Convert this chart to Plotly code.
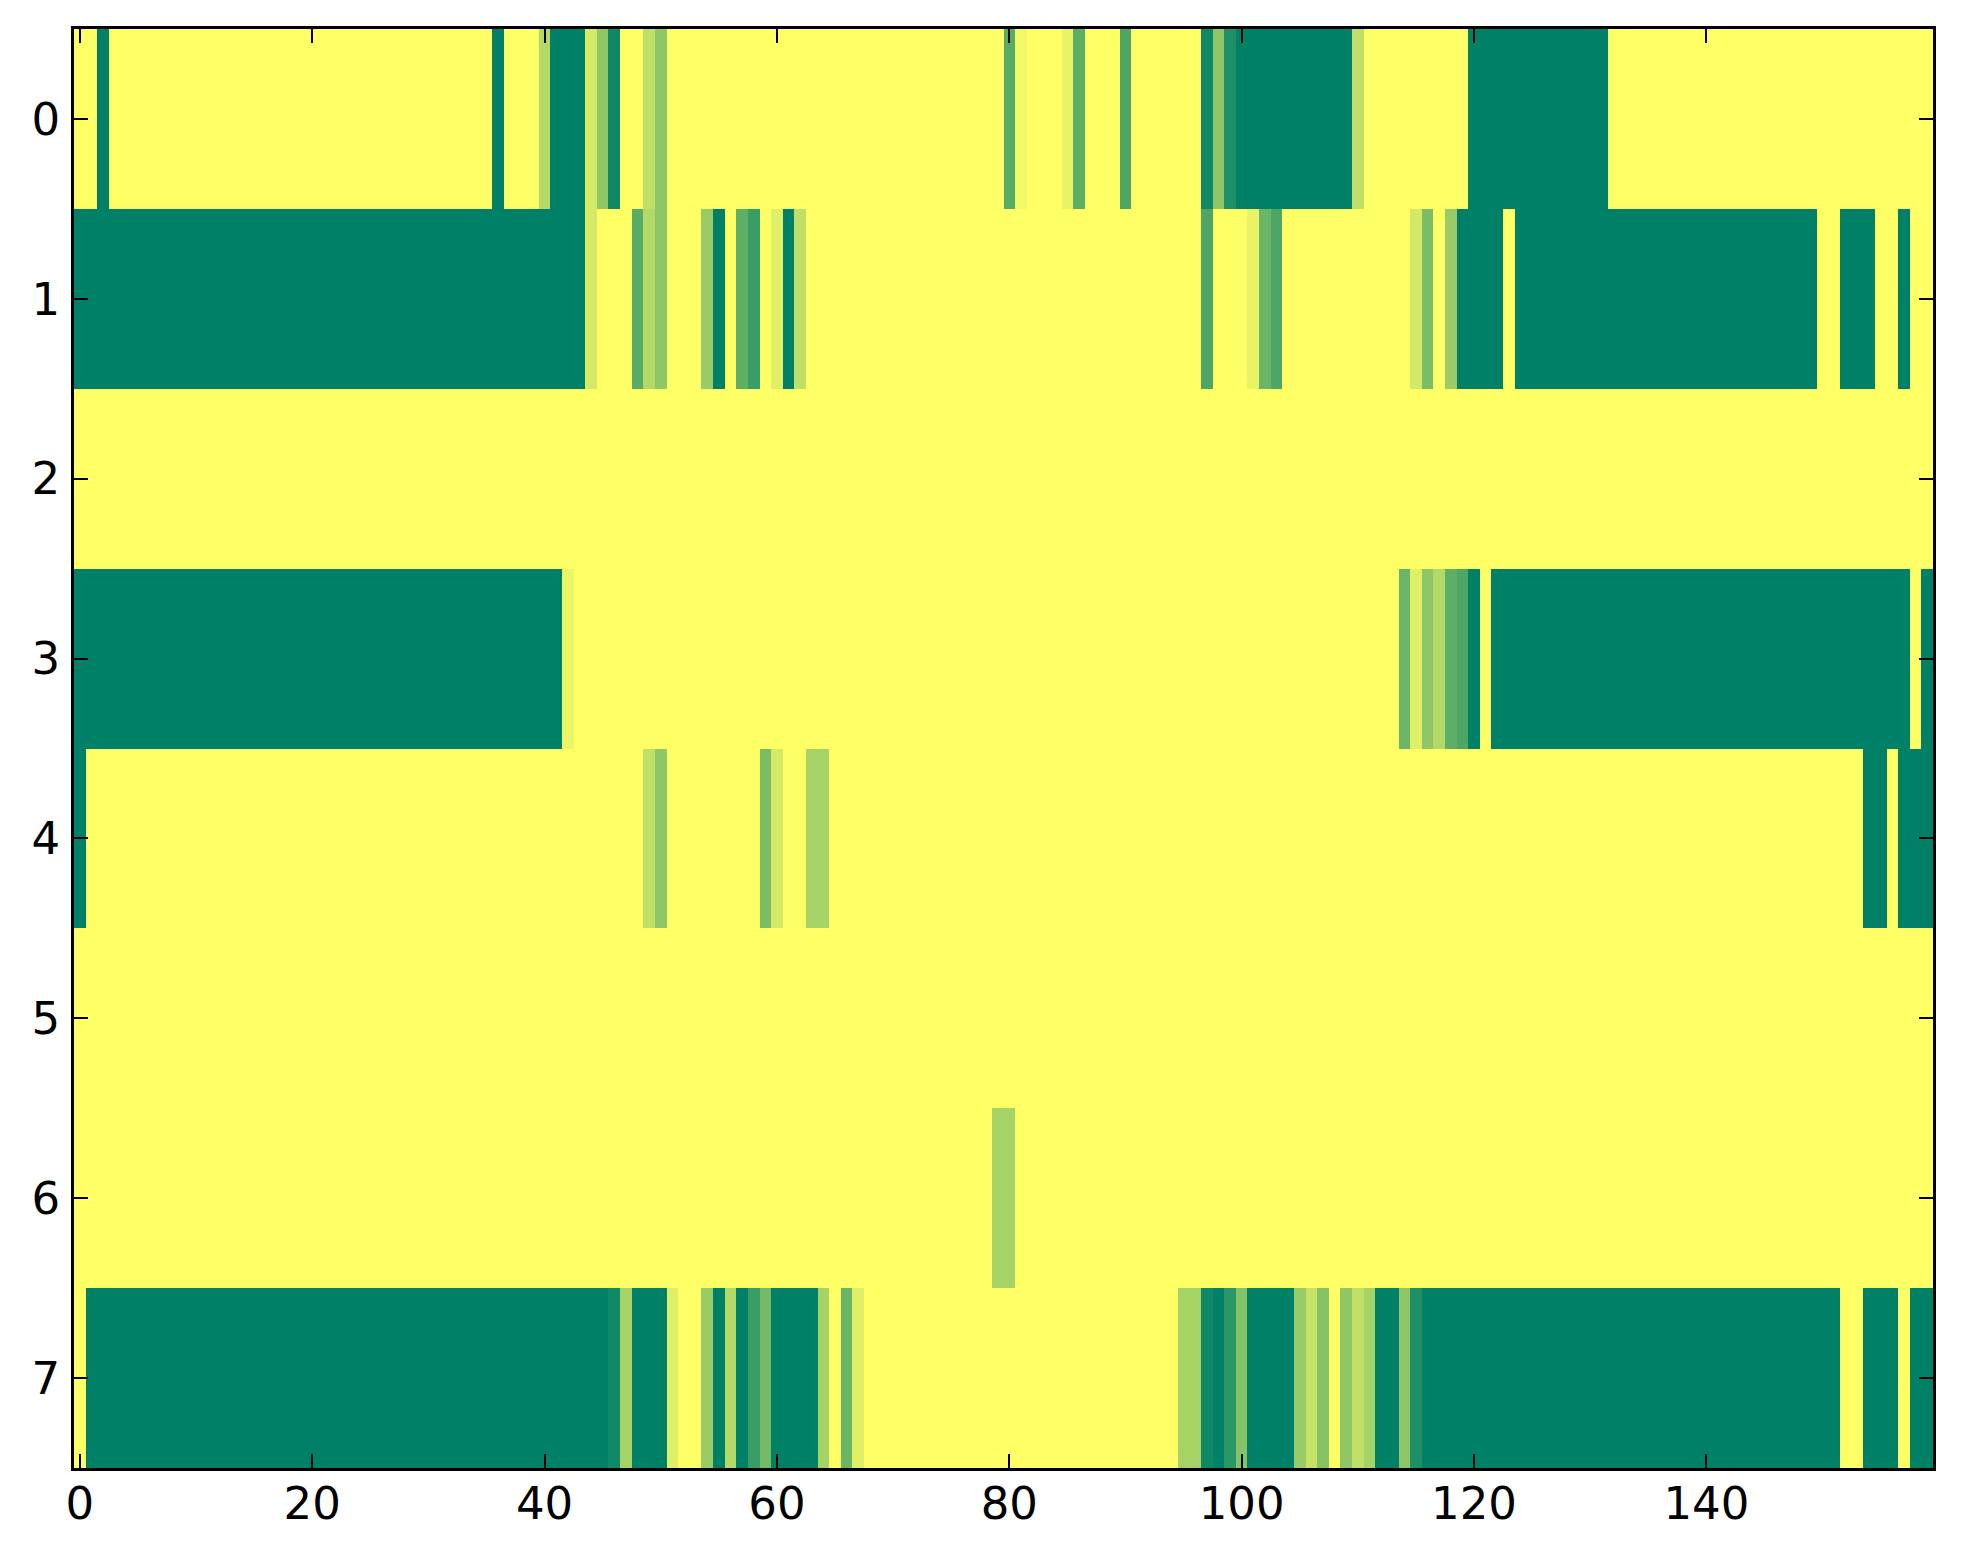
import plotly.graph_objects as go

# each row as (value, run length) pairs, 160 cells per row
row0 = [(1, 2), (0, 1), (1, 33), (0, 1), (1, 3), (0.7, 1), (0, 3), (0.83, 1), (0.56, 1),
        (0.06, 1), (1, 2), (0.75, 1), (0.56, 1), (1, 29), (0.35, 1), (0.95, 1), (1, 3),
        (0.91, 1), (0.37, 1), (1, 3), (0.3, 1), (1, 6), (0.06, 1), (0.56, 1), (0.12, 1),
        (0, 10), (0.75, 1), (1, 9), (0, 12), (1, 28)]
row1 = [(0, 44), (0.83, 1), (1, 3), (0.35, 1), (0.7, 1), (0.56, 1), (1, 3), (0.6, 1),
        (0, 1), (1, 1), (0.37, 1), (0.23, 1), (1, 1), (0.88, 1), (0, 1), (0.75, 1),
        (1, 34), (0.3, 1), (1, 3), (0.91, 1), (0.42, 1), (0.3, 1), (1, 11), (0.83, 1),
        (0.48, 1), (1, 1), (0.6, 1), (0, 4), (1, 1), (0, 26), (1, 2), (0, 3), (1, 2),
        (0, 1), (1, 2)]
row2 = [(1, 160)]
row3 = [(0, 42), (0.92, 1), (1, 71), (0.42, 1), (0.88, 1), (0.56, 1), (0.7, 1),
        (0.37, 1), (0.3, 1), (0, 1), (1, 1), (0, 36), (1, 1), (0, 1)]
row4 = [(0, 1), (1, 48), (0.75, 1), (0.56, 1), (1, 8), (0.48, 1), (0.83, 1), (1, 2),
        (0.65, 2), (1, 89), (0, 2), (1, 1), (0, 3)]
row5 = [(1, 160)]
row6 = [(1, 79), (0.65, 2), (1, 79)]
row7 = [(1, 1), (0, 45), (0.07, 1), (0.65, 1), (0, 3), (0.88, 1), (1, 2), (0.6, 1),
        (0, 1), (0.7, 1), (0, 1), (0.23, 1), (0.45, 1), (0, 4), (0.65, 1), (1, 1),
        (0.42, 1), (0.88, 1), (1, 27), (0.65, 2), (0.06, 1), (0, 1), (0.17, 1),
        (0.52, 1), (0, 4), (0.6, 1), (0.78, 1), (0.52, 1), (1, 1), (0.56, 1), (0.75, 1),
        (0.65, 1), (0, 2), (0.56, 1), (0.12, 1), (0, 36), (1, 2), (0, 3), (1, 1), (0, 2)]

x_ticks = [0, 20, 40, 60, 80, 100, 120, 140]
y_ticks = [0, 1, 2, 3, 4, 5, 6, 7]


def expand(runs):
    row = []
    for value, count in runs:
        row.extend([value] * count)
    assert len(row) == 160
    return row


z = [expand(r) for r in (row0, row1, row2, row3, row4, row5, row6, row7)]

# matplotlib "summer" map: dark green -> yellow
summer = [[0, "rgb(0,128,102)"], [1, "rgb(255,255,102)"]]

fig = go.Figure(go.Heatmap(
    z=z,
    x=list(range(160)),
    y=y_ticks,
    colorscale=summer,
    zmin=0,
    zmax=1,
    showscale=False,
))

axis_style = dict(
    showline=True,
    linecolor="black",
    linewidth=2.5,
    mirror="ticks",
    ticks="inside",
    ticklen=14,
    tickwidth=1.5,
    tickcolor="black",
    showgrid=False,
    zeroline=False,
    tickfont=dict(family="DejaVu Sans", size=45, color="black"),
)

fig.update_xaxes(range=[-0.5, 159.5], tickvals=x_ticks, ticklabelstandoff=-6, **axis_style)
fig.update_yaxes(range=[7.5, -0.5], tickvals=y_ticks, ticklabelstandoff=2, **axis_style)

fig.update_layout(
    width=1963,
    height=1564,
    margin=dict(l=66, r=38, t=21, b=104),
    paper_bgcolor="white",
    plot_bgcolor="white",
)

fig.write_html("out.html")
